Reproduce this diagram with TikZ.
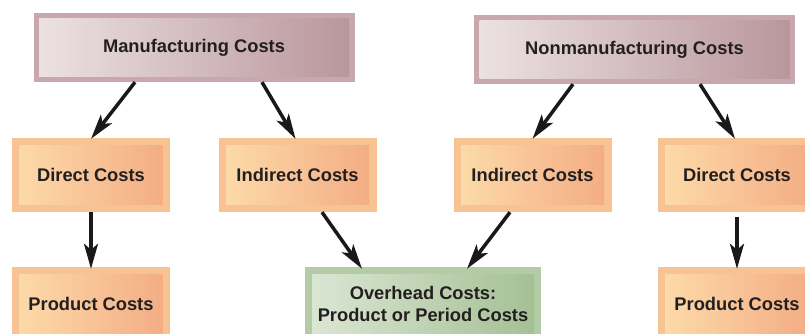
\documentclass[tikz,border=0pt]{standalone}
\usepackage{fontspec}
\setmainfont{Liberation Sans}
\usetikzlibrary{arrows.meta}

\definecolor{inktext}{HTML}{231F20}
\definecolor{mauveframe}{HTML}{C9A8AD}
\definecolor{mauvelight}{HTML}{EDE3E4}
\definecolor{mauvedark}{HTML}{B8959B}
\definecolor{peachframe}{HTML}{F8C393}
\definecolor{peachlight}{HTML}{FDDCAA}
\definecolor{peachdark}{HTML}{F3AB83}
\definecolor{sageframe}{HTML}{B3CCA5}
\definecolor{sagelight}{HTML}{DCE7D5}
\definecolor{sagedark}{HTML}{A3BF93}

\begin{document}
\begin{tikzpicture}[x=1pt, y=-1pt,
	costbox/.style n args={4}{rectangle, inner sep=0pt, fill=#1,
		text=inktext, font=\fontsize{18.3}{22}\selectfont\bfseries, align=center,
		path picture={
			\shade[left color=#2, right color=#3]
				([shift={(#4,-#4)}]path picture bounding box.north west) rectangle
				([shift={(-#4,#4)}]path picture bounding box.south east);
		}},
	topbox/.style={costbox={mauveframe}{mauvelight}{mauvedark}{5.5pt},
		minimum width=321pt, minimum height=69pt},
	subbox/.style={costbox={peachframe}{peachlight}{peachdark}{7.5pt},
		minimum width=158pt, minimum height=74pt},
	sharedbox/.style={costbox={sageframe}{sagelight}{sagedark}{7pt},
		minimum width=236pt, minimum height=74pt},
	flow/.style={line width=3.5pt, draw=black!90,
		-{Stealth[length=25pt, width=14pt, inset=6pt]}}]

\useasboundingbox (0, 0) rectangle (805, 334);

%top row
\node[topbox] (manu) at (194, 47.5) {Manufacturing Costs};
\node[topbox] (nonmanu) at (634.5, 49.5) {Nonmanufacturing Costs};

%middle row
\node[subbox] (dirL) at (91, 175) {Direct Costs};
\node[subbox] (indL) at (297.5, 175) {Indirect Costs};
\node[subbox] (indR) at (532.5, 175) {Indirect Costs};
\node[subbox] (dirR) at (737, 175) {Direct Costs};

%bottom row
\node[subbox] (prodL) at (91, 304) {Product Costs};
\node[sharedbox] (overhead) at (423, 304) {Overhead Costs:\\Product or Period Costs};
\node[subbox] (prodR) at (737, 304) {Product Costs};

\draw[flow] ([xshift=-59pt]manu.south) -- ([yshift=-1pt]dirL.north);
\draw[flow] ([xshift=68pt]manu.south) -- ([xshift=-2pt, yshift=-1pt]indL.north);
\draw[flow] ([xshift=-61.5pt]nonmanu.south) -- ([yshift=-1pt]indR.north);
\draw[flow] ([xshift=65.5pt]nonmanu.south) -- ([xshift=-2pt, yshift=-1pt]dirR.north);

\draw[flow] (dirL.south) -- ([yshift=-2pt]prodL.north);
\draw[flow] ([xshift=24.5pt]indL.south) -- ([xshift=-61pt, yshift=-2pt]overhead.north);
\draw[flow] ([xshift=-22.5pt]indR.south) -- ([xshift=44pt, yshift=-2pt]overhead.north);
\draw[flow] ([yshift=-5pt]dirR.south) -- ([yshift=-2pt]prodR.north);

\end{tikzpicture}
\end{document}
